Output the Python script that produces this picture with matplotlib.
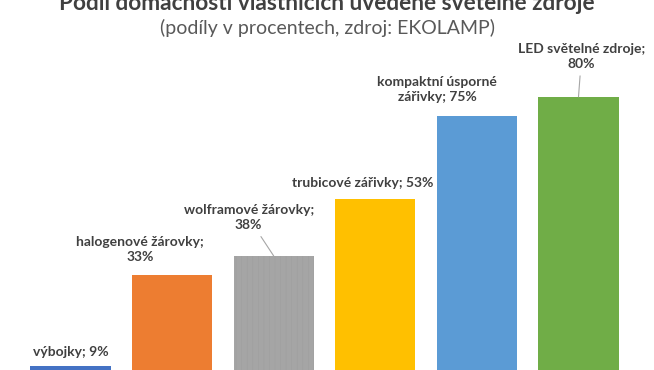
import matplotlib.pyplot as plt

categories = ['výbojky', 'halogenové žárovky', 'wolframové žárovky',
              'trubicové zářivky', 'kompaktní úsporné zářivky', 'LED světelné zdroje']
values = [9, 33, 38, 53, 75, 80]
labels = ['výbojky; 9%', 'halogenové žárovky;\n33%', 'wolframové žárovky;\n38%',
          'trubicové zářivky; 53%', 'kompaktní úsporné\nzářivky; 75%', 'LED světelné zdroje;\n80%']
colors = ['#4472C4', '#ED7D31', '#A5A5A5', '#FFC000', '#5B9BD5', '#70AD47']

# label offsets from bar top (pixels), and whether a leader line is drawn
offsets = [(0, 14), (-32, 25), (-25, 38), (-13, 16), (-40, 26), (3, 40)]
leaders = [False, False, True, False, False, True]

plt.rcParams['font.family'] = ['Lato', 'DejaVu Sans']
plt.rcParams['hatch.linewidth'] = 0.4

fig = plt.figure(figsize=(6.54, 3.70), dpi=100)
ax = fig.add_axes([19.7 / 654, 0, 609.6 / 654, 330 / 370])

x = range(len(values))
bars = ax.bar(x, values, width=0.79, color=colors, linewidth=0)
bars[2].set_hatch('|||')
bars[2].set_edgecolor('#9f9f9f')

for i, v in enumerate(values):
    arrow = dict(arrowstyle='-', color='#a6a6a6', lw=0.8, shrinkA=2, shrinkB=0) if leaders[i] else None
    ax.annotate(labels[i], xy=(i, v), xytext=offsets[i], textcoords='offset pixels',
                ha='center', va='center', fontsize=10, fontweight='bold',
                color='#404040', linespacing=1.3, arrowprops=arrow)

ax.set_xlim(-0.5, len(values) - 0.5)
ax.set_ylim(7.9, 95)
ax.axis('off')

fig.text(0.5, 1 - 4 / 370, 'Podíl domácností vlastnících uvedené světelné zdroje',
         ha='center', va='center', fontsize=16.3, fontweight='bold', color='#404040')
fig.text(0.5, 1 - 28 / 370, '(podíly v procentech, zdroj: EKOLAMP)',
         ha='center', va='center', fontsize=14, color='#595959')

fig.savefig('out.png', dpi=100)
